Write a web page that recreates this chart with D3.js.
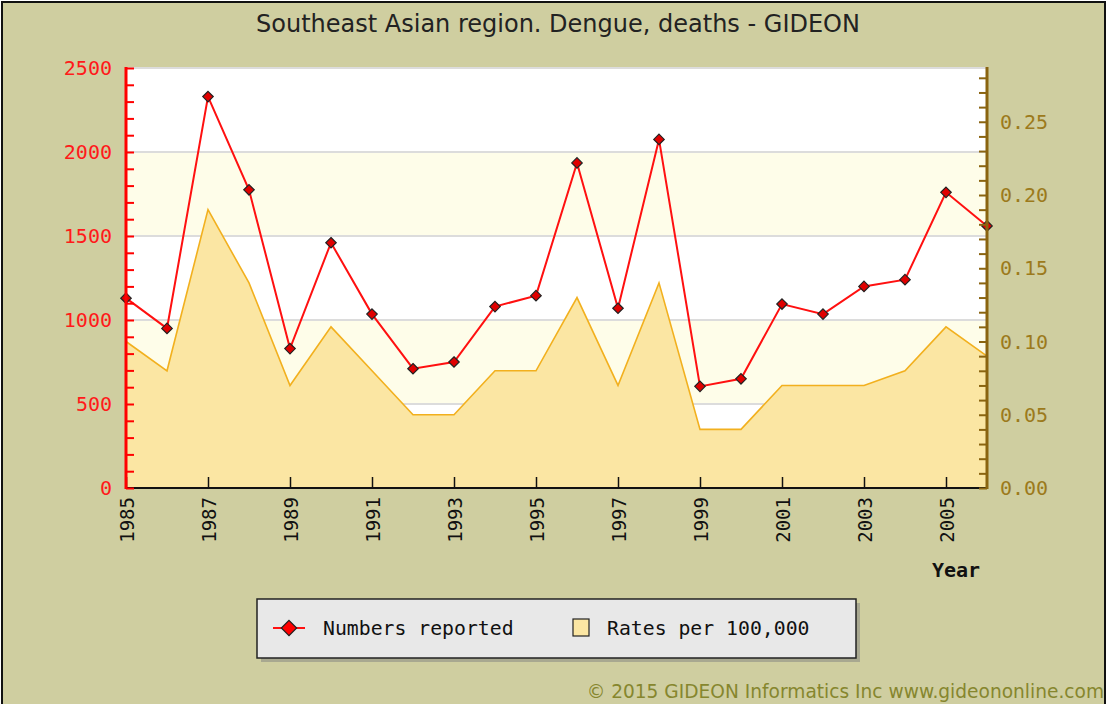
<!DOCTYPE html>
<html>
<head>
<meta charset="utf-8">
<script src="https://cdn.jsdelivr.net/npm/d3@7"></script>
<style>
  body { margin: 0; background: #fff; }
  svg { display: block; }
  .mono { font-family: "DejaVu Sans Mono", monospace; }
</style>
</head>
<body>
<div id="chart"></div>
<script>
// data
const years = [1985, 1986, 1987, 1988, 1989, 1990, 1991, 1992, 1993, 1994, 1995,
               1996, 1997, 1998, 1999, 2000, 2001, 2002, 2003, 2004, 2005, 2006];
const numbers = [1130, 950, 2330, 1775, 830, 1460, 1035, 710, 750, 1080, 1145,
                 1935, 1070, 2075, 605, 650, 1095, 1035, 1200, 1240, 1760, 1560];
const rates = [0.10, 0.08, 0.19, 0.14, 0.07, 0.11, 0.08, 0.05, 0.05, 0.08, 0.08,
               0.13, 0.07, 0.14, 0.04, 0.04, 0.07, 0.07, 0.07, 0.08, 0.11, 0.09];
const leftTicks = [0, 500, 1000, 1500, 2000, 2500];
const rightTicks = [0, 0.05, 0.10, 0.15, 0.20, 0.25];
const yearTicks = [1985, 1987, 1989, 1991, 1993, 1995, 1997, 1999, 2001, 2003, 2005];
const legendItems = ['Numbers reported', 'Rates per 100,000'];

const W = 1106, H = 704;
const plot = {left: 126, right: 987, top: 68, bottom: 488};

let svg = d3.select('#chart').append('svg').attr('width', W).attr('height', H);

svg.append('rect').attr('x', 2).attr('y', 2).attr('width', W - 3).attr('height', H + 10)
    .attr('fill', '#cfcea0').attr('stroke', '#111').attr('stroke-width', 2);

svg.append('text').attr('x', 558).attr('y', 32).attr('text-anchor', 'middle')
    .style('font-family', '"DejaVu Sans", sans-serif').style('font-size', '24px')
    .attr('fill', '#222').text('Southeast Asian region. Dengue, deaths - GIDEON');

let x = d3.scaleLinear().domain([1985, 2006]).range([plot.left, plot.right]);
let yL = d3.scaleLinear().domain([0, 2500]).range([plot.bottom, plot.top]);
let yR = d3.scaleLinear().domain([0, 0.2867]).range([plot.bottom, plot.top]);

// plot background with alternating bands
svg.append('rect').attr('x', plot.left).attr('y', plot.top)
    .attr('width', plot.right - plot.left).attr('height', plot.bottom - plot.top)
    .attr('fill', '#ffffff');
for (let i = 0; i < leftTicks.length - 1; i++) {
    if (i % 2 === 1) {
        svg.append('rect').attr('x', plot.left).attr('y', yL(leftTicks[i + 1]))
            .attr('width', plot.right - plot.left)
            .attr('height', yL(leftTicks[i]) - yL(leftTicks[i + 1]))
            .attr('fill', '#fefde9');
    }
}
svg.selectAll('.grid').data(leftTicks.slice(1)).enter().append('line')
    .attr('x1', plot.left).attr('x2', plot.right)
    .attr('y1', d => yL(d)).attr('y2', d => yL(d))
    .attr('stroke', '#dcdcdc').attr('stroke-width', 2);

// rates area
let area = d3.area().x((d, i) => x(years[i])).y0(plot.bottom).y1(d => yR(d));
let lineR = d3.line().x((d, i) => x(years[i])).y(d => yR(d));
svg.append('path').datum(rates).attr('d', area).attr('fill', '#fbe6a3');
svg.append('path').datum(rates).attr('d', lineR).attr('fill', 'none')
    .attr('stroke', '#f2b01e').attr('stroke-width', 1.6);

// numbers line
let lineN = d3.line().x((d, i) => x(years[i])).y(d => yL(d));
svg.append('path').datum(numbers).attr('d', lineN).attr('fill', 'none')
    .attr('stroke', '#ff1010').attr('stroke-width', 2);
let diamond = d3.symbol().type(d3.symbolDiamond2).size(70);
svg.selectAll('.pt').data(numbers).enter().append('path')
    .attr('transform', (d, i) => 'translate(' + x(years[i]) + ',' + yL(d) + ')')
    .attr('d', diamond).attr('fill', '#e00000').attr('stroke', '#222').attr('stroke-width', 1.2);

// x axis
let xAxis = svg.append('g').attr('transform', 'translate(0,' + plot.bottom + ')')
    .call(d3.axisTop(x).tickValues(yearTicks).tickSize(11).tickFormat(''));
xAxis.select('.domain').remove();
xAxis.selectAll('line').attr('stroke', '#111').attr('stroke-width', 1.5);
svg.append('line').attr('x1', plot.left).attr('x2', plot.right)
    .attr('y1', plot.bottom).attr('y2', plot.bottom).attr('stroke', '#111').attr('stroke-width', 2);
svg.selectAll('.xl').data(yearTicks).enter().append('text')
    .attr('class', 'mono')
    .attr('transform', d => 'translate(' + (x(d) + 1) + ',497) rotate(-90)')
    .attr('text-anchor', 'end').attr('dy', '0.36em')
    .style('font-size', '19px').attr('fill', '#111').text(d => d);

// left axis
let leftAxis = svg.append('g').attr('transform', 'translate(' + plot.left + ',0)')
    .call(d3.axisRight(yL).tickValues(d3.range(0, 2501, 100)).tickSize(8).tickFormat(''));
leftAxis.select('.domain').remove();
leftAxis.selectAll('line').attr('stroke', '#ff0000').attr('stroke-width', 2);
svg.append('line').attr('x1', plot.left).attr('x2', plot.left)
    .attr('y1', plot.top - 1).attr('y2', plot.bottom + 1).attr('stroke', '#ff0000').attr('stroke-width', 3);
svg.selectAll('.yl').data(leftTicks).enter().append('text')
    .attr('class', 'mono').attr('x', 112).attr('y', d => yL(d)).attr('dy', '0.36em')
    .attr('text-anchor', 'end').style('font-size', '20px').attr('fill', '#ff1a1a').text(d => d);

// right axis
let rightAxis = svg.append('g').attr('transform', 'translate(' + plot.right + ',0)')
    .call(d3.axisLeft(yR).tickValues(d3.range(0, 29).map(i => i / 100)).tickSize(8).tickFormat(''));
rightAxis.select('.domain').remove();
rightAxis.selectAll('line').attr('stroke', '#8a6410').attr('stroke-width', 2);
svg.append('line').attr('x1', plot.right).attr('x2', plot.right)
    .attr('y1', plot.top - 1).attr('y2', plot.bottom + 1).attr('stroke', '#8a6410').attr('stroke-width', 3);
svg.selectAll('.yr').data(rightTicks).enter().append('text')
    .attr('class', 'mono').attr('x', 1000).attr('y', d => yR(d)).attr('dy', '0.36em')
    .style('font-size', '20px').attr('fill', '#9c7a1c').text(d => d.toFixed(2));

svg.append('text').attr('x', 956).attr('y', 577).attr('text-anchor', 'middle')
    .attr('class', 'mono').style('font-size', '20px').style('font-weight', 'bold')
    .attr('fill', '#111').text('Year');

// legend
let lg = svg.append('g');
lg.append('rect').attr('x', 261).attr('y', 603).attr('width', 599).attr('height', 59).attr('fill', '#a8a890');
lg.append('rect').attr('x', 257).attr('y', 599).attr('width', 599).attr('height', 59)
    .attr('fill', '#e8e8e8').attr('stroke', '#222').attr('stroke-width', 1.5);
lg.append('line').attr('x1', 273).attr('x2', 305).attr('y1', 628).attr('y2', 628)
    .attr('stroke', '#ff1010').attr('stroke-width', 2);
lg.append('path').attr('transform', 'translate(289,628)')
    .attr('d', d3.symbol().type(d3.symbolDiamond2).size(150))
    .attr('fill', '#ff0000').attr('stroke', '#222').attr('stroke-width', 1.2);
lg.append('text').attr('class', 'mono').attr('x', 323).attr('y', 628).attr('dy', '0.36em')
    .style('font-size', '19.8px').attr('fill', '#111').text(legendItems[0]);
lg.append('rect').attr('x', 573).attr('y', 619).attr('width', 16).attr('height', 17)
    .attr('fill', '#fbe6a3').attr('stroke', '#222').attr('stroke-width', 1.2);
lg.append('text').attr('class', 'mono').attr('x', 607).attr('y', 628).attr('dy', '0.36em')
    .style('font-size', '19.8px').attr('fill', '#111').text(legendItems[1]);

svg.append('text').attr('x', 1104).attr('y', 698).attr('text-anchor', 'end')
    .style('font-family', '"DejaVu Sans", sans-serif').style('font-size', '18.6px')
    .attr('fill', '#86862e').text('\u00a9 2015 GIDEON Informatics Inc www.gideononline.com');
</script>
</body>
</html>
